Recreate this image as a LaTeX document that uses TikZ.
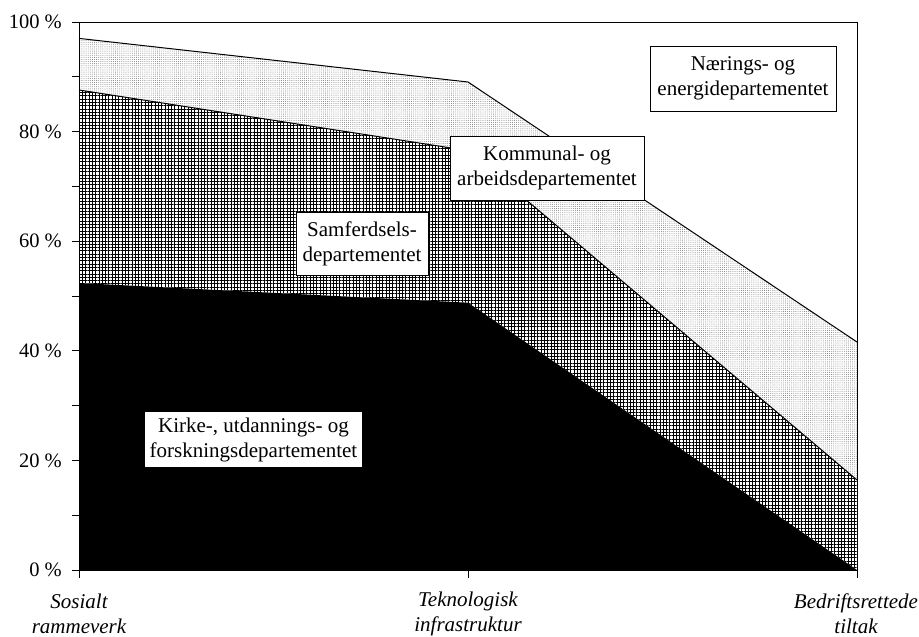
\documentclass[tikz,border=0pt]{standalone}
\usepackage{fontspec}
\setmainfont{Liberation Serif}
\usetikzlibrary{patterns.meta}
\tikzset{
  lab/.style={fill=white,draw=black,line width=0.8pt,align=center,inner sep=0pt,font=\fontsize{21}{25}\selectfont},
  cat/.style={align=center,inner sep=0pt,font=\fontsize{21}{25}\selectfont\itshape},
  ylab/.style={anchor=east,inner sep=0pt,font=\fontsize{20.5}{24}\selectfont},
  curve/.style={line width=1pt,line join=round},
  tick/.style={line width=1pt},
}
\begin{document}
\begin{tikzpicture}[x=1pt,y=-1pt]
\useasboundingbox (0,0) rectangle (919,637);
\fill[white] (0,0) rectangle (919,637);
% axis corners
\coordinate (BL) at (79,570);
\coordinate (BM) at (468,570);
\coordinate (BR) at (857,570);
\coordinate (TL) at (79,22);
\coordinate (TR) at (857,22);
% curves
\coordinate (A1) at (79,38.4);
\coordinate (A2) at (468,82);
\coordinate (A3) at (857,342);
\coordinate (B1) at (79,90);
\coordinate (B2) at (468,150.6);
\coordinate (B3) at (857,480);
\coordinate (C1) at (79,283);
\coordinate (C2) at (468,302.7);
\coordinate (C3) at (857,570);
% fills
\fill[pattern={Dots[distance=2.1pt,radius=0.45pt]},pattern color=black!55] (B1) -- (B2) -- (B3) -- (A3) -- (A2) -- (A1) -- cycle;
\fill[pattern={Hatch[angle=0,distance=3.3pt,line width=0.95pt]},pattern color=black] (C1) -- (C2) -- (C3) -- (B3) -- (B2) -- (B1) -- cycle;
\fill[black] (BL) -- (C1) -- (C2) -- (C3) -- cycle;
% boundary lines
\draw[curve] (A1) -- (A2) -- (A3);
\draw[curve] (B1) -- (B2) -- (B3);
% frame
\draw[line width=1pt] (TL) -- (TR) -- (BR) -- (BL) -- cycle;
% y ticks
\foreach \i in {0,...,10} {
  \draw[tick] (72,{570-54.8*\i}) -- (79,{570-54.8*\i});
}
\foreach \i/\t in {0/0,2/20,4/40,6/60,8/80,10/100} {
  \node[ylab] (y\i) at (62,{570-54.8*\i}) {\t\ \%};
}
% x ticks
\draw[tick] (BL) -- ++(0,8);
\draw[tick] (BM) -- ++(0,8);
\draw[tick] (BR) -- ++(0,8);
% category labels
\node[cat] (c1) at (79,614) {Sosialt\\rammeverk};
\node[cat] (c2) at (468,614) {Teknologisk\\infrastruktur};
\node[cat] (c3) at (856,614) {Bedriftsrettede\\tiltak};
% series labels
\node[lab,minimum width=186,minimum height=65] (n1) at (743,78.5) {Nærings- og\\energidepartementet};
\node[lab,minimum width=194,minimum height=64] (n2) at (547,168) {Kommunal- og\\arbeidsdepartementet};
\node[lab,minimum width=132,minimum height=63] (n3) at (362,243.5) {Samferdsels-\\departementet};
\node[lab,draw=none,minimum width=217,minimum height=55] (n4) at (253.5,439.5) {Kirke-, utdannings- og\\forskningsdepartementet};
\end{tikzpicture}
\end{document}
